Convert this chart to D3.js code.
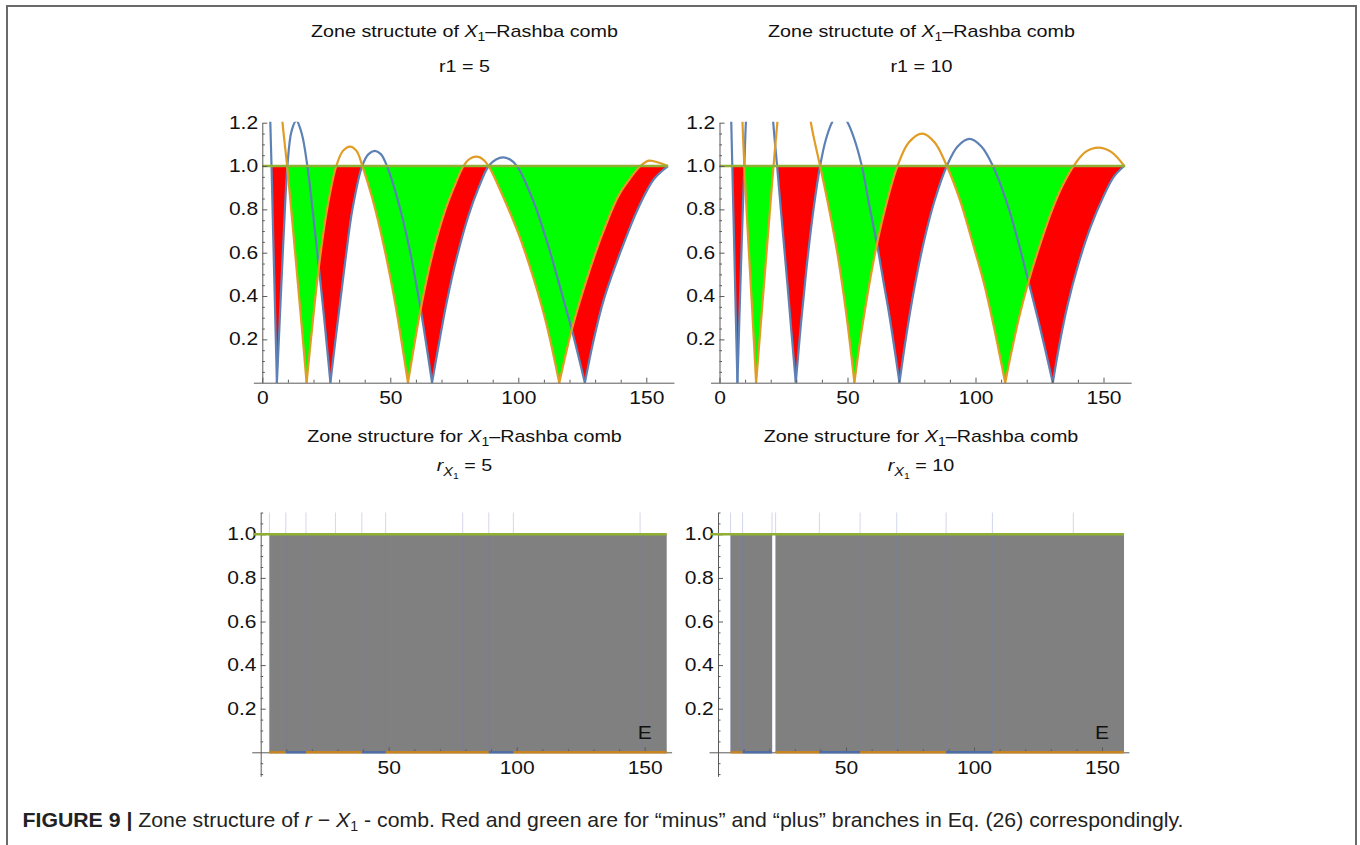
<!DOCTYPE html>
<html>
<head>
<meta charset="utf-8">
<script src="https://cdn.jsdelivr.net/npm/d3@7"></script>
<style>
  body { margin: 0; background: #fff; }
  svg { display: block; }
</style>
</head>
<body>
<svg id="fig" width="1360" height="845"></svg>
<script>
// ---- data (x = E, y = curve value) ----
// r1 = 5, blue branch, one array per arch (zero to zero)
const blue5 = [
  [[2.4, 1.55], [2.9, 1.3], [3.6, 1.0], [4.3, 0.66], [5.0, 0.33], [5.7, 0]],
  [[5.7, 0], [6.7, 0.26], [7.7, 0.52], [8.7, 0.77], [9.8, 1.0], [11.4, 1.16], [13.3, 1.21], [15.4, 1.15], [17.6, 1.0], [19.9, 0.77], [22.2, 0.52], [24.4, 0.27], [26.6, 0]],
  [[26.6, 0], [28.5, 0.19], [30.5, 0.38], [32.5, 0.57], [35.2, 0.8], [39.0, 1.0], [41.5, 1.055], [43.9, 1.07], [46.3, 1.055], [48.7, 1.0], [53.0, 0.84], [57.3, 0.63], [61.7, 0.35], [64.0, 0.18], [66.3, 0]],
  [[66.3, 0], [69, 0.18], [72, 0.37], [76, 0.58], [80.5, 0.77], [84.5, 0.9], [88.4, 1.0], [91.3, 1.03], [94.0, 1.04], [96.8, 1.03], [99.5, 1.0], [105.5, 0.85], [111.5, 0.64], [116.8, 0.42], [121, 0.24], [126, 0]],
  [[126, 0], [129.5, 0.2], [133.3, 0.38], [139.8, 0.6], [147, 0.81], [153, 0.94], [158.5, 1.0]]
];
// r1 = 5, orange branch
const orange5 = [
  [[7.3, 1.3], [7.9, 1.2], [9.7, 1.0], [11.6, 0.76], [13.5, 0.51], [15.4, 0.26], [17.3, 0]],
  [[17.3, 0], [19.7, 0.28], [22.1, 0.535], [25.3, 0.8], [28.9, 1.0], [31.5, 1.07], [34.3, 1.09], [36.8, 1.07], [39.1, 1.0], [43, 0.85], [47.5, 0.63], [52, 0.36], [56.9, 0]],
  [[56.9, 0], [59.3, 0.17], [61.7, 0.33], [66, 0.57], [71, 0.78], [74.8, 0.9], [78.6, 1.0], [81, 1.033], [83.9, 1.043], [86.3, 1.03], [88.4, 1.0], [94, 0.86], [100, 0.69], [106, 0.48], [111, 0.27], [116, 0]],
  [[116, 0], [118.5, 0.13], [121, 0.25], [126, 0.45], [132, 0.66], [139, 0.86], [143.5, 0.94], [147.7, 1.0], [151, 1.025], [155, 1.015], [158.5, 1.0]]
];
// r1 = 10, blue branch
const blue10 = [
  [[3.8, 1.6], [4.2, 1.35], [4.6, 1.2], [5.0, 1.0], [5.7, 0.65], [6.35, 0.32], [7.0, 0]],
  [[7.0, 0], [7.7, 0.27], [8.4, 0.54], [9.05, 0.78], [9.7, 1.0], [10.3, 1.2], [11.5, 1.45], [14, 1.75], [17, 1.75], [19.5, 1.48], [21.0, 1.2], [22.5, 1.0], [24.4, 0.74], [26.5, 0.46], [28.2, 0.22], [29.8, 0]],
  [[29.8, 0], [31.8, 0.27], [34, 0.53], [36.5, 0.78], [39.3, 1.0], [41.5, 1.12], [43.9, 1.2], [47, 1.25], [50.1, 1.2], [52.8, 1.12], [55.6, 1.0], [58.5, 0.82], [61.5, 0.64], [64, 0.47], [66.5, 0.3], [70.3, 0]],
  [[70.3, 0], [73, 0.22], [76, 0.43], [80, 0.66], [84, 0.84], [88.8, 1.0], [93, 1.09], [97.7, 1.125], [102.3, 1.09], [106.8, 1.0], [112, 0.84], [116.5, 0.66], [120.7, 0.466], [125.5, 0.24], [130.2, 0]],
  [[130.2, 0], [133, 0.19], [136, 0.36], [140, 0.54], [145, 0.72], [150, 0.86], [154, 0.95], [158.1, 1.0]]
];
// r1 = 10, orange branch
const orange10 = [
  [[8.6, 1.4], [9.0, 1.2], [9.7, 1.0], [11.2, 0.66], [12.8, 0.33], [14.3, 0]],
  [[14.3, 0], [16.0, 0.25], [17.7, 0.5], [19.4, 0.75], [21.1, 1.0], [22.6, 1.2], [25, 1.5], [28.5, 1.62], [32, 1.52], [34.5, 1.33], [35.7, 1.2], [39.3, 1.0], [42.5, 0.82], [46, 0.6], [49.5, 0.32], [52.7, 0]],
  [[52.7, 0], [55, 0.2], [58, 0.42], [61.5, 0.64], [65.5, 0.84], [69.5, 1.0], [74, 1.11], [79.2, 1.15], [84, 1.11], [88.8, 1.0], [94, 0.84], [99, 0.64], [103.5, 0.45], [107.5, 0.24], [111.6, 0]],
  [[111.6, 0], [114, 0.14], [117, 0.3], [120.7, 0.466], [125, 0.63], [130, 0.8], [134, 0.91], [138.3, 1.0], [143, 1.065], [148, 1.085], [153, 1.065], [158.1, 1.0]]
];

// lower panels: allowed bands (gray), boundary lines, coloured pieces on E axis
const bands5 = [[3.4, 158.6]];
const bands10 = [[4.9, 21.1], [22.5, 158.6]];
const edges5 = [3.4, 9.8, 17.7, 29.2, 39.5, 48.8, 78.9, 89.1, 98.7, 148.2];
const edges10 = [4.9, 9.6, 21.1, 22.5, 39.6, 55.5, 69.8, 89.1, 107.2, 138.8];
const axisOrange5 = [[3.4, 9.8], [17.7, 39.5], [48.8, 89.1], [98.7, 158.6]];
const axisBlue5 = [[9.8, 17.7], [39.5, 48.8], [89.1, 98.7]];
const axisOrange10 = [[4.9, 9.6], [22.5, 39.6], [55.5, 89.1], [107.2, 158.6]];
const axisBlue10 = [[9.6, 21.1], [39.6, 55.5], [89.1, 107.2]];

// ticks
const xLabelsTop = [0, 50, 100, 150];
const xLabelsBottom = [50, 100, 150];
const xMinor = [10, 20, 30, 40, 60, 70, 80, 90, 110, 120, 130, 140];
const yLabelsTop = [0.2, 0.4, 0.6, 0.8, 1.0, 1.2];
const yLabelsBottom = [0.2, 0.4, 0.6, 0.8, 1.0];

// ---- drawing ----
const C = { blue: '#5E81B5', orange: '#E19C24', green: '#8FB032', red: '#FF0000', lime: '#00FF00' };
const font = "'Liberation Sans', Arial, Helvetica, sans-serif";
const stretch = 1.2; // the plot artwork is a bit wider than tall in the figure
const svg = d3.select('#fig');
const curve = d3.curveCatmullRom.alpha(0.5);

function axes(g, x, y, xLabels, yLabels, yMinor) {
  const xa = g.append('g').attr('transform', `translate(0,${y(0)})`);
  xa.append('g')
    .call(d3.axisBottom(x).tickValues(xMinor).tickSize(-3).tickSizeOuter(0).tickFormat(''))
    .call((s) => s.select('.domain').remove());
  xa.append('g')
    .call(d3.axisBottom(x).tickValues(xLabels).tickSize(-5).tickSizeOuter(0).tickPadding(9).tickFormat(d3.format('d')));

  const ya = g.append('g').attr('transform', `translate(${x(0)},0)`);
  ya.append('g')
    .call(d3.axisLeft(y).tickValues(yMinor).tickSize(-2.5).tickSizeOuter(0).tickFormat(''))
    .call((s) => s.select('.domain').remove());
  ya.append('g')
    .call(d3.axisLeft(y).tickValues(yLabels).tickSize(-5).tickSizeOuter(0).tickPadding(3.5).tickFormat(d3.format('.1f')));

  g.selectAll('.domain, .tick line').attr('stroke', '#5a5a5a').attr('stroke-width', 1);
  g.selectAll('.tick text').attr('fill', '#111').attr('font-size', 17.5).attr('font-family', font)
    .attr('transform', `scale(${stretch},1)`);
}

function topPanel(id, x0, blue, orange) {
  const x = d3.scaleLinear().domain([-3.5, 160.8]).range([x0 - 3.5 * 2.56, x0 + 160.8 * 2.56]);
  const y = d3.scaleLinear().domain([0, 1.2]).range([382.7, 122.7]);
  const g = svg.append('g');
  const defs = svg.append('defs');
  defs.append('clipPath').attr('id', id + 'fill').append('rect')
    .attr('x', x(0)).attr('y', y(1)).attr('width', x(160) - x(0)).attr('height', y(0) - y(1) + 1);
  defs.append('clipPath').attr('id', id + 'plot').append('rect')
    .attr('x', x(0)).attr('y', y(1.2) - 1).attr('width', x(160) - x(0)).attr('height', y(0) - y(1.2) + 2);

  const line = d3.line().x((d) => x(d[0])).y((d) => y(d[1])).curve(curve);
  const area = d3.area().x((d) => x(d[0])).y0(y(1)).y1((d) => y(d[1])).curve(curve);

  // one path per branch so that neighbouring arches leave no seams
  const fills = g.append('g').attr('clip-path', `url(#${id}fill)`);
  fills.append('path').attr('d', blue.map(area).join('')).attr('fill', C.red);
  fills.append('path').attr('d', orange.map(area).join('')).attr('fill', C.lime);

  const lines = g.append('g').attr('clip-path', `url(#${id}plot)`)
    .attr('fill', 'none').attr('stroke-width', 2.2);
  lines.selectAll('path.b').data(blue).join('path').attr('class', 'b')
    .attr('d', line).attr('stroke', C.blue);
  lines.selectAll('path.o').data(orange).join('path').attr('class', 'o')
    .attr('d', line).attr('stroke', C.orange);

  g.append('line').attr('x1', x(0)).attr('x2', x(158.5)).attr('y1', y(1)).attr('y2', y(1))
    .attr('stroke', C.green).attr('stroke-width', 2.4);

  axes(g, x, y, xLabelsTop, yLabelsTop,
    d3.range(1, 25).map((i) => i * 0.05).filter((v) => Math.abs(v * 5 - Math.round(v * 5)) > 1e-6));
}

function bottomPanel(x0, bands, edges, axOrange, axBlue) {
  const x = d3.scaleLinear().domain([-3.5, 160.5]).range([x0 - 3.5 * 2.56, x0 + 160.5 * 2.56]);
  const y = d3.scaleLinear().domain([-0.11, 1.1]).range([752.3 + 0.11 * 218, 752.3 - 1.1 * 218]);
  const g = svg.append('g');

  g.selectAll('rect.band').data(bands).join('rect').attr('class', 'band')
    .attr('x', (d) => x(d[0])).attr('width', (d) => x(d[1]) - x(d[0]))
    .attr('y', y(1)).attr('height', y(0) - y(1))
    .attr('fill', '#808080');

  g.selectAll('line.edge').data(edges).join('line').attr('class', 'edge')
    .attr('x1', (d) => x(d)).attr('x2', (d) => x(d))
    .attr('y1', y(1.1)).attr('y2', y(0))
    .attr('stroke', '#6f7bc0').attr('stroke-opacity', 0.3).attr('stroke-width', 1);

  axes(g, x, y, xLabelsBottom, yLabelsBottom,
    d3.range(-2, 23).map((i) => i * 0.05).filter((v) => Math.abs(v) > 1e-6 && Math.abs(v * 5 - Math.round(v * 5)) > 1e-6));

  g.selectAll('line.ao').data(axOrange).join('line').attr('class', 'ao')
    .attr('x1', (d) => x(d[0])).attr('x2', (d) => x(d[1])).attr('y1', y(0)).attr('y2', y(0))
    .attr('stroke', '#C8841E').attr('stroke-width', 2.4);
  g.selectAll('line.ab').data(axBlue).join('line').attr('class', 'ab')
    .attr('x1', (d) => x(d[0])).attr('x2', (d) => x(d[1])).attr('y1', y(0)).attr('y2', y(0))
    .attr('stroke', '#4D6DA6').attr('stroke-width', 2.4);

  g.append('line').attr('x1', x(-3)).attr('x2', x(158.6)).attr('y1', y(1)).attr('y2', y(1))
    .attr('stroke', C.green).attr('stroke-width', 2.4);

  g.append('text').attr('transform', `translate(${x(150)},739) scale(${stretch},1)`)
    .attr('text-anchor', 'middle')
    .attr('font-family', font).attr('font-size', 17.5).attr('fill', '#111').text('E');
}

function label(cx, cy) {
  return svg.append('text').attr('transform', `translate(${cx},${cy}) scale(1.16,1)`)
    .attr('text-anchor', 'middle')
    .attr('font-family', font).attr('font-size', 17).attr('fill', '#111');
}

function title(cx, cy, text) {
  const t = label(cx, cy);
  t.append('tspan').text(text + ' ');
  t.append('tspan').attr('font-style', 'italic').text('X');
  t.append('tspan').attr('font-size', 12).attr('dy', 4).text('1');
  t.append('tspan').attr('dy', -4).text('\u2013Rashba comb');
}

function subR(cx, cy, val) {
  const t = label(cx, cy);
  t.append('tspan').attr('font-style', 'italic').text('r');
  t.append('tspan').attr('font-style', 'italic').attr('font-size', 12.5).attr('dy', 5).text('X');
  t.append('tspan').attr('font-size', 9).attr('dy', 3).text('1');
  t.append('tspan').attr('dy', -8).text(' = ' + val);
}

topPanel('tl', 262.3, blue5, orange5);
topPanel('tr', 719.5, blue10, orange10);
bottomPanel(260.7, bands5, edges5, axisOrange5, axisBlue5);
bottomPanel(718.0, bands10, edges10, axisOrange10, axisBlue10);

title(464.5, 37, 'Zone structute of');
title(921.5, 37, 'Zone structute of');
label(464.5, 72).text('r1 = 5');
label(921.5, 72).text('r1 = 10');
title(464.5, 442, 'Zone structure for');
title(921, 442, 'Zone structure for');
subR(464.5, 471, '5');
subR(921, 471, '10');

// caption
const cap = svg.append('text').attr('x', 22.5).attr('y', 827)
  .attr('font-family', "'Liberation Sans Narrow', 'Liberation Sans', Arial, sans-serif")
  .attr('font-size', 21).attr('fill', '#222')
  .attr('textLength', 1161).attr('lengthAdjust', 'spacingAndGlyphs');
cap.append('tspan').attr('font-weight', 'bold').text('FIGURE 9 |');
cap.append('tspan').text(' Zone structure of ');
cap.append('tspan').attr('font-style', 'italic').text('r');
cap.append('tspan').text(' \u2212 ');
cap.append('tspan').attr('font-style', 'italic').text('X');
cap.append('tspan').attr('font-size', 14).attr('dy', 4).text('1');
cap.append('tspan').attr('dy', -4).text(' - comb. Red and green are for \u201Cminus\u201D and \u201Cplus\u201D branches in Eq. (26) correspondingly.');

// frame
svg.append('path').attr('d', 'M7,845V6H1356V845').attr('fill', 'none')
  .attr('stroke', '#6a6a6a').attr('stroke-width', 2);
</script>
</body>
</html>
